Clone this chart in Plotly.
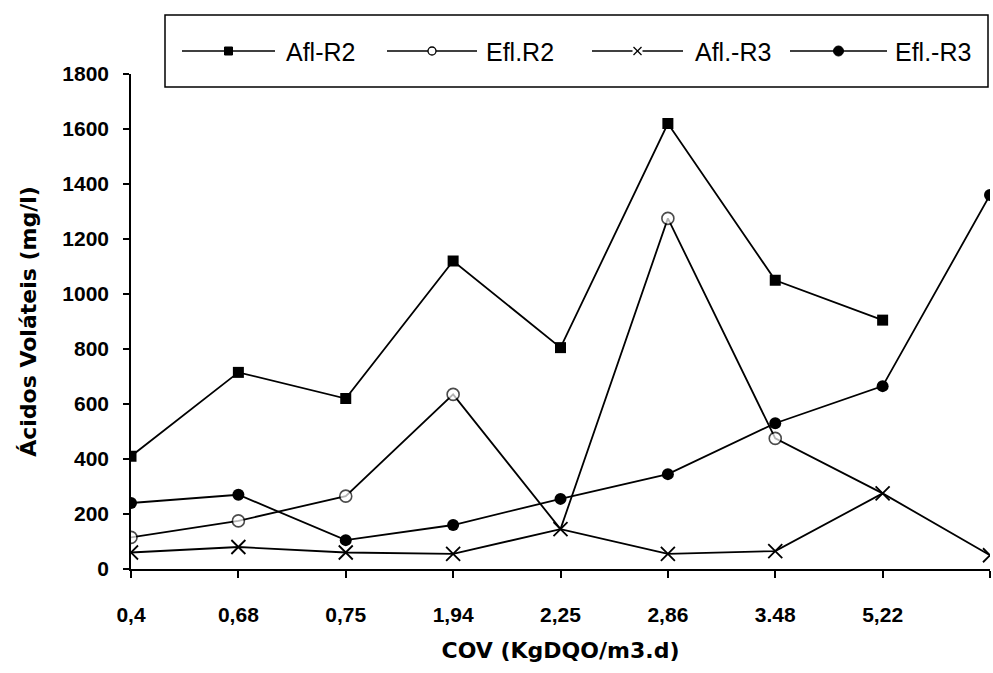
import plotly.graph_objects as go

# COV categories (KgDQO/m3.d); the last point has no printed label
cov_labels = ["0,4", "0,68", "0,75", "1,94", "2,25", "2,86", "3.48", "5,22", ""]
x_idx = list(range(len(cov_labels)))

# Volatile acids (mg/l)
afl_r2 = [410, 715, 620, 1120, 805, 1620, 1050, 905]
efl_r2 = [115, 175, 265, 635, 145, 1275, 475, 275]
afl_r3 = [60, 80, 60, 55, 145, 55, 65, 275, 50]
efl_r3 = [240, 270, 105, 160, 255, 345, 530, 665, 1360]

series_names = ["Afl-R2", "Efl.R2", "Afl.-R3", "Efl.-R3"]

# open-circle points lying under an X marker are drawn without a circle
efl_r2_sizes = [12, 12, 12, 12, 0, 12, 12, 0]

W, H = 993, 673
ML, MR, MT, MB = 131, 3, 74, 104
PW, PH = W - ML - MR, H - MT - MB


def px_x(px):
    return (px - ML) / PW


def px_y(py):
    return (H - MB - py) / PH


line = dict(color="black", width=1.8)
fig = go.Figure()
fig.add_trace(go.Scatter(
    x=x_idx[:len(afl_r2)], y=afl_r2, name=series_names[0], mode="lines+markers",
    line=line, marker=dict(symbol="square", size=11, color="black")))
fig.add_trace(go.Scatter(
    x=x_idx[:len(efl_r2)], y=efl_r2, name=series_names[1], mode="lines+markers",
    line=line, marker=dict(symbol="circle", size=efl_r2_sizes, color="white",
                           line=dict(color="black", width=1.6))))
fig.add_trace(go.Scatter(
    x=x_idx[:len(afl_r3)], y=afl_r3, name=series_names[2], mode="lines+markers",
    line=line, marker=dict(symbol="x-thin-open", size=14, color="black",
                           line=dict(color="black", width=1.8))))
fig.add_trace(go.Scatter(
    x=x_idx[:len(efl_r3)], y=efl_r3, name=series_names[3], mode="lines+markers",
    line=line, marker=dict(symbol="circle", size=12, color="black")))

tick_font = dict(family="Liberation Sans, Arial, sans-serif", size=21,
                 color="black", weight="bold")
title_font = dict(family="DejaVu Sans, sans-serif", size=22,
                  color="black", weight="bold")
legend_font = dict(family="Liberation Sans, Arial, sans-serif", size=25,
                   color="black")

# legend box drawn as a framed row of line samples and labels
shapes = [dict(
    type="rect", xref="paper", yref="paper",
    x0=px_x(165), x1=px_x(988), y0=px_y(87), y1=px_y(15),
    line=dict(color="black", width=1.5), fillcolor="white", layer="above",
)]
annotations = []
leg_y = 51
leg_items = [  # (line start, line end, label start) in pixels
    (182, 275, 284),
    (387, 477, 484),
    (592, 683, 693),
    (790, 887, 893),
]
for name, (x0, x1, tx) in zip(series_names, leg_items):
    shapes.append(dict(type="line", xref="paper", yref="paper",
                       x0=px_x(x0), x1=px_x(x1), y0=px_y(leg_y), y1=px_y(leg_y),
                       line=dict(color="black", width=1.6), layer="above"))
    cx = (x0 + x1) / 2
    r = 4
    if name == "Afl-R2":
        shapes.append(dict(type="rect", xref="paper", yref="paper",
                           x0=px_x(cx - r), x1=px_x(cx + r),
                           y0=px_y(leg_y + r), y1=px_y(leg_y - r),
                           line=dict(color="black", width=1), fillcolor="black",
                           layer="above"))
    elif name == "Efl.R2":
        shapes.append(dict(type="circle", xref="paper", yref="paper",
                           x0=px_x(cx - r), x1=px_x(cx + r),
                           y0=px_y(leg_y + r), y1=px_y(leg_y - r),
                           line=dict(color="black", width=1.3), fillcolor="white",
                           layer="above"))
    elif name == "Afl.-R3":
        shapes.append(dict(type="rect", xref="paper", yref="paper",
                           x0=px_x(cx - r - 1), x1=px_x(cx + r + 1),
                           y0=px_y(leg_y + r), y1=px_y(leg_y - r),
                           line=dict(width=0), fillcolor="white", layer="above"))
        for sgn in (1, -1):
            shapes.append(dict(type="line", xref="paper", yref="paper",
                               x0=px_x(cx - r), x1=px_x(cx + r),
                               y0=px_y(leg_y + sgn * r), y1=px_y(leg_y - sgn * r),
                               line=dict(color="black", width=1.2), layer="above"))
    else:
        shapes.append(dict(type="circle", xref="paper", yref="paper",
                           x0=px_x(cx - r - 1), x1=px_x(cx + r + 1),
                           y0=px_y(leg_y + r + 1), y1=px_y(leg_y - r - 1),
                           line=dict(color="black", width=1), fillcolor="black",
                           layer="above"))
    annotations.append(dict(
        text=name, xref="paper", yref="paper", x=px_x(tx), y=px_y(leg_y + 1),
        xanchor="left", yanchor="middle", showarrow=False, font=legend_font))

fig.update_layout(
    width=W, height=H,
    margin=dict(l=ML, r=MR, t=MT, b=MB),
    paper_bgcolor="white", plot_bgcolor="white",
    showlegend=False,
    xaxis=dict(
        range=[0, 8], tickmode="array", tickvals=x_idx, ticktext=cov_labels,
        showgrid=False, zeroline=False, showline=True, linecolor="black",
        linewidth=1.6, ticks="outside", ticklen=7, tickcolor="black",
        tickwidth=1.5, tickfont=tick_font, ticklabelstandoff=19,
        title=dict(text="COV (KgDQO/m3.d)", font=title_font, standoff=18),
    ),
    yaxis=dict(
        range=[0, 1800], tickmode="linear", tick0=0, dtick=200,
        showgrid=False, zeroline=False, showline=True, linecolor="black",
        linewidth=1.6, ticks="outside", ticklen=6, tickcolor="black",
        tickwidth=1.5, tickfont=tick_font, ticklabelstandoff=10,
        title=dict(text="Ácidos Voláteis (mg/l)", font=title_font, standoff=20),
    ),
    shapes=shapes,
    annotations=annotations,
)

fig.write_html("out.html")
